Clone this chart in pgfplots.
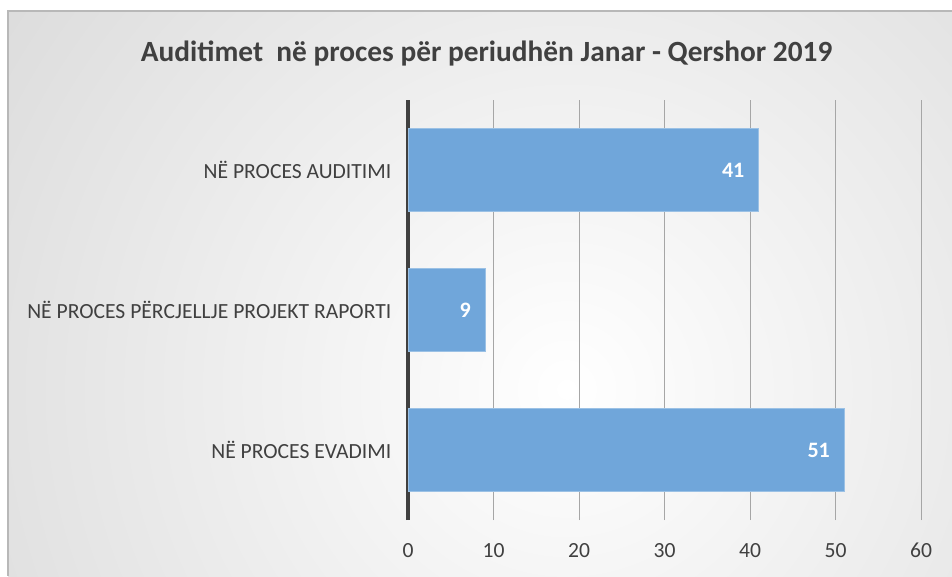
\documentclass[border=0pt]{standalone}
\usepackage{pgfplots}
\pgfplotsset{compat=1.18}
\usepackage{fontspec}
\setmainfont{Carlito}
\definecolor{barblue}{RGB}{112,166,218}
\definecolor{txt}{RGB}{64,64,64}
\definecolor{bgedge}{RGB}{192,192,192}
\begin{document}
\begin{tikzpicture}
\path[use as bounding box] (0pt,0pt) rectangle (714pt,432pt);
\fill[white] (0pt,0pt) rectangle (714pt,432pt);
\begin{scope}
\clip (6pt,0pt) rectangle (714pt,423.75pt);
\fill[bgedge] (6pt,0pt) rectangle (714pt,423.75pt);
\shade[inner color=white, outer color=bgedge] (425pt,140pt) circle (930pt);
\end{scope}
\draw[black!28, line width=1.2pt] (6pt,0pt) -- (6pt,423.75pt) -- (714pt,423.75pt);
\node[font=\bfseries\fontsize{22}{26}\selectfont, text=txt] at (365pt,392pt) {Auditimet\ \ në proces për periudhën Janar - Qershor 2019};
\begin{axis}[
  at={(306pt,42pt)}, anchor=south west,
  scale only axis, width=384.75pt, height=315pt,
  xmin=0, xmax=60, ymin=-0.5, ymax=2.5,
  xbar, bar width=62.25pt,
  xtick={0,10,20,30,40,50,60},
  ytick={0,1,2},
  yticklabels={NË PROCES EVADIMI, NË PROCES PËRCJELLJE PROJEKT RAPORTI, NË PROCES AUDITIMI},
  separate axis lines,
  axis x line*=bottom, axis y line*=left,
  x axis line style={draw=none},
  y axis line style={draw=txt, line width=2.3pt, -},
  major tick length=0pt,
  xmajorgrids, grid style={draw=black!35, line width=0.6pt},
  tick label style={font=\fontsize{16.2}{19}\selectfont, text=txt},
  /pgf/number format/assume math mode=true,
  xticklabel style={yshift=-14pt},
  yticklabel style={xshift=-9pt},
  nodes near coords,
  nodes near coords style={anchor=east, xshift=-7pt, text=white, font=\bfseries\fontsize{16.5}{19}\selectfont},
  clip=false,
]
\addplot[fill=barblue, draw=barblue!70!white, line width=0.6pt] coordinates {(51,0) (9,1) (41,2)};
\end{axis}
\end{tikzpicture}
\end{document}
